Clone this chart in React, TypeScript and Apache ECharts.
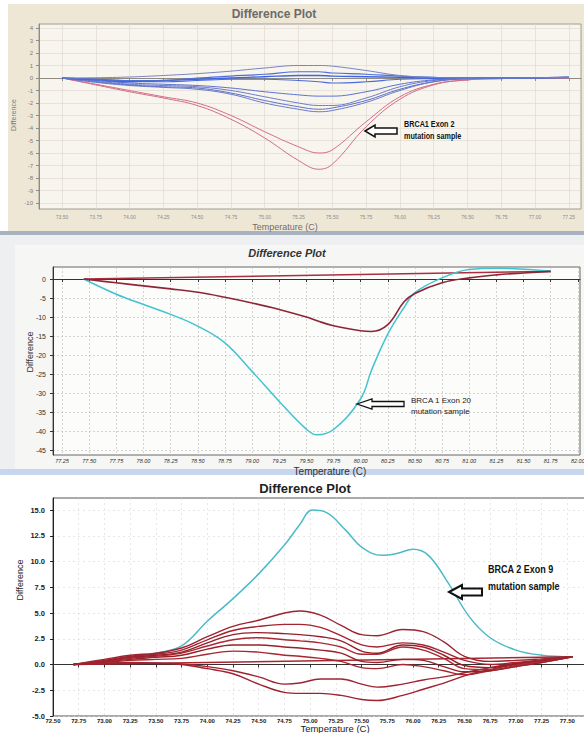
import React, { useEffect, useRef } from "react";
import * as echarts from "echarts";

// ---------- Panel 1 : BRCA1 Exon 2 ----------
const p1Temps = [73.5, 73.75, 74.0, 74.25, 74.5, 74.75, 75.0, 75.25, 75.4, 75.5, 75.75, 76.0, 76.25, 76.5, 76.75, 77.0, 77.25];
const p1Blue1 = [0, 0.02, 0.08, 0.2, 0.35, 0.55, 0.8, 1.0, 1.0, 0.95, 0.6, 0.2, 0.05, 0, 0, 0.02, 0.05];
const p1Blue2 = [0, -0.1, -0.2, -0.2, 0.0, 0.15, 0.3, 0.5, 0.5, 0.4, 0.3, 0.15, 0.05, 0, 0, 0.02, 0.05];
const p1Blue3 = [0, -0.15, -0.3, -0.2, -0.1, 0.0, 0.1, 0.2, 0.2, 0.15, 0.1, 0.05, 0, 0, 0, 0.02, 0.05];
const p1Blue4 = [0, -0.1, -0.25, -0.3, -0.2, -0.1, -0.1, -0.2, -0.3, -0.4, -0.3, -0.1, -0.05, 0, 0, 0.02, 0.05];
const p1Blue5 = [0, -0.2, -0.4, -0.5, -0.6, -0.8, -1.1, -1.35, -1.45, -1.45, -1.1, -0.5, -0.15, -0.05, 0, 0.02, 0.05];
const p1Blue6 = [0, -0.25, -0.5, -0.6, -0.7, -1.0, -1.5, -2.0, -2.2, -2.2, -1.6, -0.7, -0.2, -0.05, 0, 0.02, 0.05];
const p1Blue7 = [0, -0.3, -0.55, -0.7, -0.8, -1.2, -1.8, -2.3, -2.5, -2.4, -1.8, -0.9, -0.3, -0.05, 0, 0.02, 0.05];
const p1Blue8 = [0, -0.35, -0.6, -0.75, -0.9, -1.3, -2.0, -2.5, -2.7, -2.6, -1.95, -1.0, -0.3, -0.05, 0, 0.02, 0.05];
const p1Red1 = [0, -0.5, -1.0, -1.5, -2.0, -3.0, -4.3, -5.5, -6.0, -5.75, -3.5, -1.5, -0.5, -0.15, -0.05, 0, 0.02];
const p1Red2 = [0, -0.55, -1.1, -1.6, -2.2, -3.3, -4.8, -6.6, -7.3, -6.9, -3.9, -1.7, -0.55, -0.15, -0.05, 0, 0.02];
const p1XTicks = [73.5, 73.75, 74.0, 74.25, 74.5, 74.75, 75.0, 75.25, 75.5, 75.75, 76.0, 76.25, 76.5, 76.75, 77.0, 77.25];
const p1YTicks = [4, 3, 2, 1, 0, -1, -2, -3, -4, -5, -6, -7, -8, -9, -10];

// ---------- Panel 2 : BRCA1 Exon 20 ----------
const p2Temps = [77.45, 77.75, 78.0, 78.25, 78.5, 78.75, 79.0, 79.25, 79.5, 79.6, 79.75, 80.0, 80.1, 80.25, 80.4, 80.5, 80.75, 81.0, 81.25, 81.5, 81.75];
const p2Cyan = [0, -4, -6.7, -9.3, -12.4, -16.8, -24.3, -32.2, -39.5, -41, -39.6, -31.5, -24, -14.5, -7.5, -3.6, 0.3, 2.5, 2.8, 2.6, 2.1];
const p2Red = [0, -1, -1.8, -2.6, -3.5, -4.8, -6.3, -8.0, -10.0, -11.0, -12.3, -13.6, -13.8, -12.0, -6.0, -3.8, -1.0, 0.3, 1.1, 1.6, 2.0];
const p2RedFlat = [[77.45, 0], [81.75, 2.0]];
const p2XTicks = [77.25, 77.5, 77.75, 78.0, 78.25, 78.5, 78.75, 79.0, 79.25, 79.5, 79.75, 80.0, 80.25, 80.5, 80.75, 81.0, 81.25, 81.5, 81.75, 82.0];
const p2YTicks = [0, -5, -10, -15, -20, -25, -30, -35, -40, -45];

// ---------- Panel 3 : BRCA2 Exon 9 ----------
const p3CyanTemps = [72.7, 73.0, 73.25, 73.5, 73.75, 74.0, 74.25, 74.5, 74.75, 74.9, 75.02, 75.15, 75.35, 75.5, 75.7, 75.85, 76.0, 76.15, 76.35, 76.55, 76.75, 77.0, 77.25, 77.55];
const p3Cyan = [0, 0.35, 0.7, 1.1, 1.8, 4.2, 6.4, 8.8, 11.6, 13.6, 15.0, 14.8, 13.0, 11.4, 10.6, 10.8, 11.2, 10.6, 7.8, 4.6, 2.6, 1.4, 0.9, 0.75];
const p3Temps = [72.7, 73.0, 73.25, 73.5, 73.75, 74.0, 74.25, 74.5, 74.75, 74.9, 75.1, 75.3, 75.5, 75.65, 75.9, 76.1, 76.3, 76.5, 76.75, 77.0, 77.25, 77.55];
const p3Red1 = [0, 0.5, 0.9, 1.1, 1.6, 2.7, 3.7, 4.3, 5.0, 5.2, 4.8, 3.8, 2.9, 2.8, 3.4, 3.2, 2.2, 0.8, 0.3, 0.4, 0.55, 0.75];
const p3Red2 = [0, 0.4, 0.8, 1.0, 1.4, 2.4, 3.3, 3.7, 3.9, 3.9, 3.6, 2.8, 1.9, 1.7, 2.1, 1.9, 1.2, 0.4, 0.0, 0.2, 0.45, 0.75];
const p3Red3 = [0, 0.35, 0.7, 0.9, 1.2, 2.1, 2.9, 3.1, 3.0, 2.9, 2.7, 2.3, 1.3, 1.1, 1.9, 1.7, 0.9, -0.1, -0.3, 0.1, 0.4, 0.75];
const p3Red4 = [0, 0.3, 0.6, 0.8, 1.1, 1.8, 2.4, 2.6, 2.4, 2.3, 2.1, 1.7, 1.0, 1.0, 1.7, 1.4, 0.6, -0.4, -0.5, -0.1, 0.3, 0.75];
const p3Red5 = [0, 0.25, 0.5, 0.7, 0.9, 1.5, 1.9, 1.9, 1.7, 1.6, 1.4, 1.1, 0.3, 0.2, 0.5, 0.4, -0.2, -0.7, -0.6, -0.2, 0.2, 0.75];
const p3Red6 = [0, 0.2, 0.4, 0.5, 0.6, 1.0, 1.3, 1.2, 0.9, 0.8, 0.6, 0.3, -0.3, -0.4, 0.0, -0.2, -0.6, -1.0, -0.6, -0.2, 0.2, 0.75];
const p3Red8 = [0, 0.15, 0.2, 0.15, 0.05, -0.2, -0.6, -1.2, -1.9, -1.8, -1.4, -1.4, -1.9, -2.2, -1.9, -1.5, -1.2, -0.8, -0.3, 0.1, 0.4, 0.75];
const p3Red9 = [0, 0.1, 0.15, 0.1, 0.0, -0.4, -0.9, -1.9, -2.7, -2.8, -2.8, -3.0, -3.4, -3.5, -3.0, -2.4, -1.8, -1.1, -0.5, 0.0, 0.35, 0.75];
const p3RedFlat = [[72.7, 0], [77.55, 0.75]];
const p3XTicks = [72.5, 72.75, 73.0, 73.25, 73.5, 73.75, 74.0, 74.25, 74.5, 74.75, 75.0, 75.25, 75.5, 75.75, 76.0, 76.25, 76.5, 76.75, 77.0, 77.25, 77.5, 77.75];
const p3YTicks = [15, 12.5, 10, 7.5, 5, 2.5, 0, -2.5, -5];

const zip = (xs: number[], ys: number[]) => xs.map((x, i) => [x, ys[i]]);

const SANS = "'Liberation Sans', Arial, sans-serif";

function line(idx: number, data: any, color: string, width: number, smooth: number | boolean = 0.4) {
  return {
    type: "line",
    xAxisIndex: idx,
    yAxisIndex: idx,
    data,
    smooth,
    symbol: "none",
    lineStyle: { color, width },
    z: 3,
  };
}

function arrow(tipX: number, cy: number, headX: number, tailX: number, headH: number, shaftH: number, lw: number) {
  return {
    type: "polygon",
    z: 100,
    shape: {
      points: [
        [tipX, cy],
        [headX, cy - headH],
        [headX, cy - shaftH],
        [tailX, cy - shaftH],
        [tailX, cy + shaftH],
        [headX, cy + shaftH],
        [headX, cy + headH],
      ],
    },
    style: { fill: "#ffffff", stroke: "#111111", lineWidth: lw, lineJoin: "miter" },
  };
}

function txt(x: number, y: number, text: string, font: string, color: string, align = "left", rotation = 0, scaleX = 1) {
  return {
    type: "text",
    x,
    y,
    rotation,
    scaleX,
    z: 100,
    style: { text, font, fill: color, align, verticalAlign: "middle" },
  };
}

export default function App() {
  const ref = useRef<HTMLDivElement>(null);
  useEffect(() => {
    if (!ref.current) return;
    const chart = echarts.init(ref.current, undefined, { renderer: "svg" });

    const xAxisCommon = (idx: number, min: number, max: number, ticks: number[], fmt: (v: number) => string, labelStyle: any, gridStyle: any, axisColor: string) => ({
      type: "value",
      gridIndex: idx,
      min,
      max,
      axisLine: { show: true, lineStyle: { color: axisColor, width: 1 } },
      axisTick: { show: true, customValues: ticks, length: 3, lineStyle: { color: axisColor } },
      axisLabel: { customValues: ticks, formatter: fmt, ...labelStyle },
      splitLine: { show: true, lineStyle: gridStyle },
    });

    const option: any = {
      animation: false,
      backgroundColor: "#ffffff",
      grid: [
        { left: 39, top: 24, width: 542, height: 185, show: true, backgroundColor: "#f8f5ee", borderColor: "#a09c94", borderWidth: 1, outerBoundsMode: "none", containLabel: false },
        { left: 53, top: 267, width: 527, height: 188, show: true, backgroundColor: "#fcfcfb", borderColor: "#666666", borderWidth: 1, outerBoundsMode: "none", containLabel: false },
        { left: 53, top: 498, width: 540, height: 218, show: true, backgroundColor: "#ffffff", borderColor: "#555555", borderWidth: 1, outerBoundsMode: "none", containLabel: false },
      ],
      xAxis: [
        xAxisCommon(0, 73.33, 77.34, p1XTicks, (v: number) => v.toFixed(2),
          { fontSize: 5, color: "#8a8a8a", margin: 5, fontFamily: SANS },
          { color: "#dcd7cd", width: 0.6 }, "#8f8b84"),
        xAxisCommon(1, 77.167, 82.02, p2XTicks, (v: number) => v.toFixed(2),
          { fontSize: 5.5, color: "#333333", margin: 3, fontFamily: SANS, fontStyle: "italic" },
          { color: "#b8b8b8", width: 0.6, type: [2, 2] }, "#333333"),
        xAxisCommon(2, 72.5, 77.75, p3XTicks, (v: number) => v.toFixed(2),
          { fontSize: 6, color: "#222222", margin: 2, fontFamily: SANS, fontWeight: "bold" },
          { color: "#d6d6d6", width: 0.6, type: [2, 3] }, "#333333"),
      ],
      yAxis: [
        {
          type: "value", gridIndex: 0, min: -10.48, max: 4.32,
          axisLine: { show: true, lineStyle: { color: "#8f8b84" } },
          axisTick: { show: true, customValues: p1YTicks, length: 3, lineStyle: { color: "#8f8b84" } },
          axisLabel: { customValues: p1YTicks, fontSize: 6, color: "#7a7a7a", margin: 6, fontFamily: SANS },
          splitLine: { show: true, lineStyle: { color: "#dcd7cd", width: 0.6 } },
        },
        {
          type: "value", gridIndex: 1, min: -46.3, max: 3.16,
          axisLine: { show: true, lineStyle: { color: "#333333" } },
          axisTick: { show: true, customValues: p2YTicks, length: 3, lineStyle: { color: "#333333" } },
          axisLabel: { customValues: p2YTicks, fontSize: 7, color: "#333333", margin: 7, fontFamily: SANS },
          splitLine: { show: true, lineStyle: { color: "#b8b8b8", width: 0.6, type: [2, 2] } },
        },
        {
          type: "value", gridIndex: 2, min: -5, max: 16.17,
          axisLine: { show: true, lineStyle: { color: "#222222" } },
          axisTick: { show: true, customValues: p3YTicks, length: 3, lineStyle: { color: "#222222" } },
          axisLabel: { customValues: p3YTicks, formatter: (v: number) => v.toFixed(1), fontSize: 7.5, color: "#222222", margin: 8, fontFamily: SANS, fontWeight: "bold" },
          splitLine: { show: true, lineStyle: { color: "#d6d6d6", width: 0.6, type: [2, 3] } },
        },
      ],
      series: [
        line(0, zip(p1Temps, p1Red1), "#d76a86", 1),
        line(0, zip(p1Temps, p1Red2), "#cf6c84", 1),
        line(0, zip(p1Temps, p1Blue8), "#6a78c6", 1),
        line(0, zip(p1Temps, p1Blue7), "#5c70cc", 1),
        line(0, zip(p1Temps, p1Blue6), "#6f7cc4", 1),
        line(0, zip(p1Temps, p1Blue5), "#5a72cf", 1),
        line(0, zip(p1Temps, p1Blue4), "#4b6cd8", 1.2),
        line(0, zip(p1Temps, p1Blue3), "#3f66dc", 1.4),
        line(0, zip(p1Temps, p1Blue2), "#4d6fd6", 1.2),
        line(0, zip(p1Temps, p1Blue1), "#7a82c0", 1),

        line(1, p2RedFlat, "#a8303e", 1.5, false),
        line(1, zip(p2Temps, p2Cyan), "#42c3d0", 1.5),
        line(1, zip(p2Temps, p2Red), "#8e2534", 1.6),

        line(2, zip(p3CyanTemps, p3Cyan), "#4cbac8", 1.5),
        line(2, p3RedFlat, "#a82630", 1.4, false),
        line(2, zip(p3Temps, p3Red9), "#a0222e", 1.4),
        line(2, zip(p3Temps, p3Red8), "#9e2430", 1.4),
        line(2, zip(p3Temps, p3Red6), "#a8262f", 1.4),
        line(2, zip(p3Temps, p3Red5), "#98202b", 1.4),
        line(2, zip(p3Temps, p3Red4), "#aa2a34", 1.4),
        line(2, zip(p3Temps, p3Red3), "#96202a", 1.4),
        line(2, zip(p3Temps, p3Red2), "#a3242f", 1.4),
        line(2, zip(p3Temps, p3Red1), "#9a2530", 1.4),
      ],
      graphic: [
        // backgrounds
        { type: "rect", z: -10, shape: { x: 8, y: 4, width: 576, height: 228 }, style: { fill: "#efe7d6" } },
        { type: "rect", z: -10, shape: { x: 0, y: 231, width: 584, height: 4 }, style: { fill: "#a7b1c0" } },
        { type: "rect", z: -10, shape: { x: 0, y: 235, width: 584, height: 234 }, style: { fill: "#eeeff0" } },
        { type: "rect", z: -10, shape: { x: 15, y: 245, width: 569, height: 224 }, style: { fill: "#f6f6f4" } },
        { type: "rect", z: -10, shape: { x: 0, y: 469, width: 584, height: 6 }, style: { fill: "#c6d6ee" } },

        // panel 1 texts
        txt(274, 14, "Difference Plot", `bold 12px ${SANS}`, "#6b6b6b", "center"),
        txt(285, 227, "Temperature (C)", `9px ${SANS}`, "#6e6e6e", "center"),
        txt(13, 115, "Difference", `7px ${SANS}`, "#7a7a7a", "center", Math.PI / 2),
        txt(404, 124, "BRCA1 Exon 2", `bold 8.5px ${SANS}`, "#111111", "left", 0, 0.85),
        txt(404, 136, "mutation sample", `bold 8.5px ${SANS}`, "#111111", "left", 0, 0.85),
        arrow(365, 131, 375, 397, 6, 3, 1.5),

        // panel 2 texts
        txt(287, 253, "Difference Plot", `italic bold 11px ${SANS}`, "#333333", "center"),
        txt(330, 471, "Temperature (C)", `10px ${SANS}`, "#333333", "center"),
        txt(30, 352, "Difference", `9px ${SANS}`, "#333333", "center", Math.PI / 2),
        txt(411, 400, "BRCA 1 Exon 20", `8px ${SANS}`, "#222222"),
        txt(411, 411, "mutation sample", `8px ${SANS}`, "#222222"),
        arrow(357, 404, 372, 404, 5, 2.5, 1.3),

        // panel 3 texts
        txt(305, 488, "Difference Plot", `bold 13px ${SANS}`, "#222222", "center"),
        txt(335, 728.5, "Temperature (C)", `9.5px ${SANS}`, "#222222", "center"),
        txt(20, 580, "Difference", `9px ${SANS}`, "#222222", "center", Math.PI / 2),
        txt(488, 569, "BRCA 2 Exon 9", `bold 11px ${SANS}`, "#111111", "left", 0, 0.82),
        txt(488, 586, "mutation sample", `bold 11px ${SANS}`, "#111111", "left", 0, 0.82),
        arrow(449, 592, 462, 482, 7, 3.5, 2),
      ],
    };
    chart.setOption(option);
    return () => chart.dispose();
  }, []);
  return (
    <div
      ref={ref}
      style={{ position: "fixed", left: 0, top: 0, width: 584, height: 733 }}
    />
  );
}
